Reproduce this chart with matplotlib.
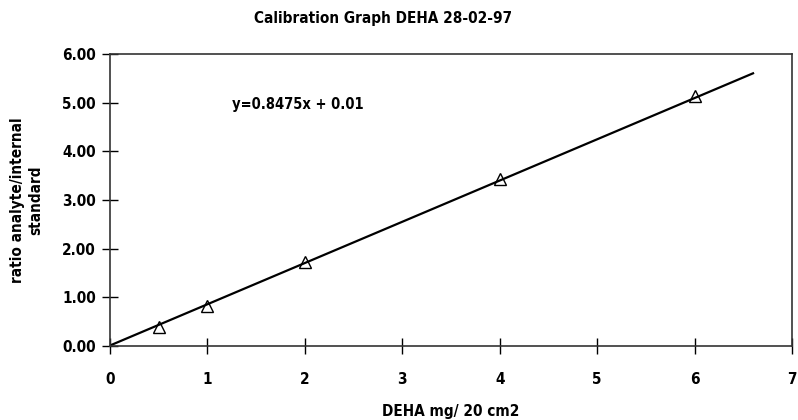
"""
Calibration graph for DEHA (ratio analyte / internal standard vs. amount)
"""

import matplotlib
matplotlib.use("Agg")
import matplotlib.pyplot as plt
import numpy as np

# Data
dose = [0.5, 1, 2, 4, 6]
ratio = [0.40, 0.83, 1.72, 3.43, 5.13]

slope = 0.8475
intercept = 0.01
fit_range = [0, 6.6]

x_ticks = [0, 1, 2, 3, 4, 5, 6, 7]
y_ticks = [0, 1, 2, 3, 4, 5, 6]

plt.rcParams['font.family'] = ['DejaVu Sans']
plt.rcParams['font.stretch'] = 'condensed'
plt.rcParams['font.weight'] = 'bold'

fig = plt.figure(figsize=(7.98, 4.2), dpi=100)
ax = fig.add_axes([0.1378, 0.1762, 0.8547, 0.6952])

# fitted line
fx = np.array(fit_range)
ax.plot(fx, slope * fx + intercept, color='black', lw=1.6, zorder=2)

# measured points
ax.plot(dose, ratio, linestyle='none', marker='^', markersize=9,
        markerfacecolor='none', markeredgecolor='black', markeredgewidth=1.0, zorder=3)

ax.text(1.25, 4.97, f"y={slope}x + {intercept}", fontsize=10.5, fontweight='bold',
        va='center', ha='left')

# Format the plot
ax.set_xlim(0, 7)
ax.set_ylim(0, 6)
ax.set_xticks(x_ticks)
ax.set_yticks(y_ticks)
ax.set_yticklabels([f"{v:.2f}" for v in y_ticks])
ax.tick_params(axis='both', direction='inout', length=12, width=1, labelsize=11)
ax.tick_params(axis='x', pad=13)
ax.tick_params(axis='y', pad=4)
for lab in ax.get_xticklabels() + ax.get_yticklabels():
    lab.set_fontweight('bold')
for s in ax.spines.values():
    s.set_linewidth(1.2)
    s.set_color('#333333')

# title sits left of the axes centre in the original
fig.text(383 / 798, 1 - 18 / 420, 'Calibration Graph DEHA 28-02-97', fontsize=11,
         fontweight='bold', ha='center', va='center')
ax.set_xlabel('DEHA mg/ 20 cm2', fontsize=11, fontweight='bold', labelpad=12)
ax.set_ylabel('ratio analyte/internal\nstandard', fontsize=11, fontweight='bold', labelpad=14)

fig.savefig('out.png', dpi=100)
